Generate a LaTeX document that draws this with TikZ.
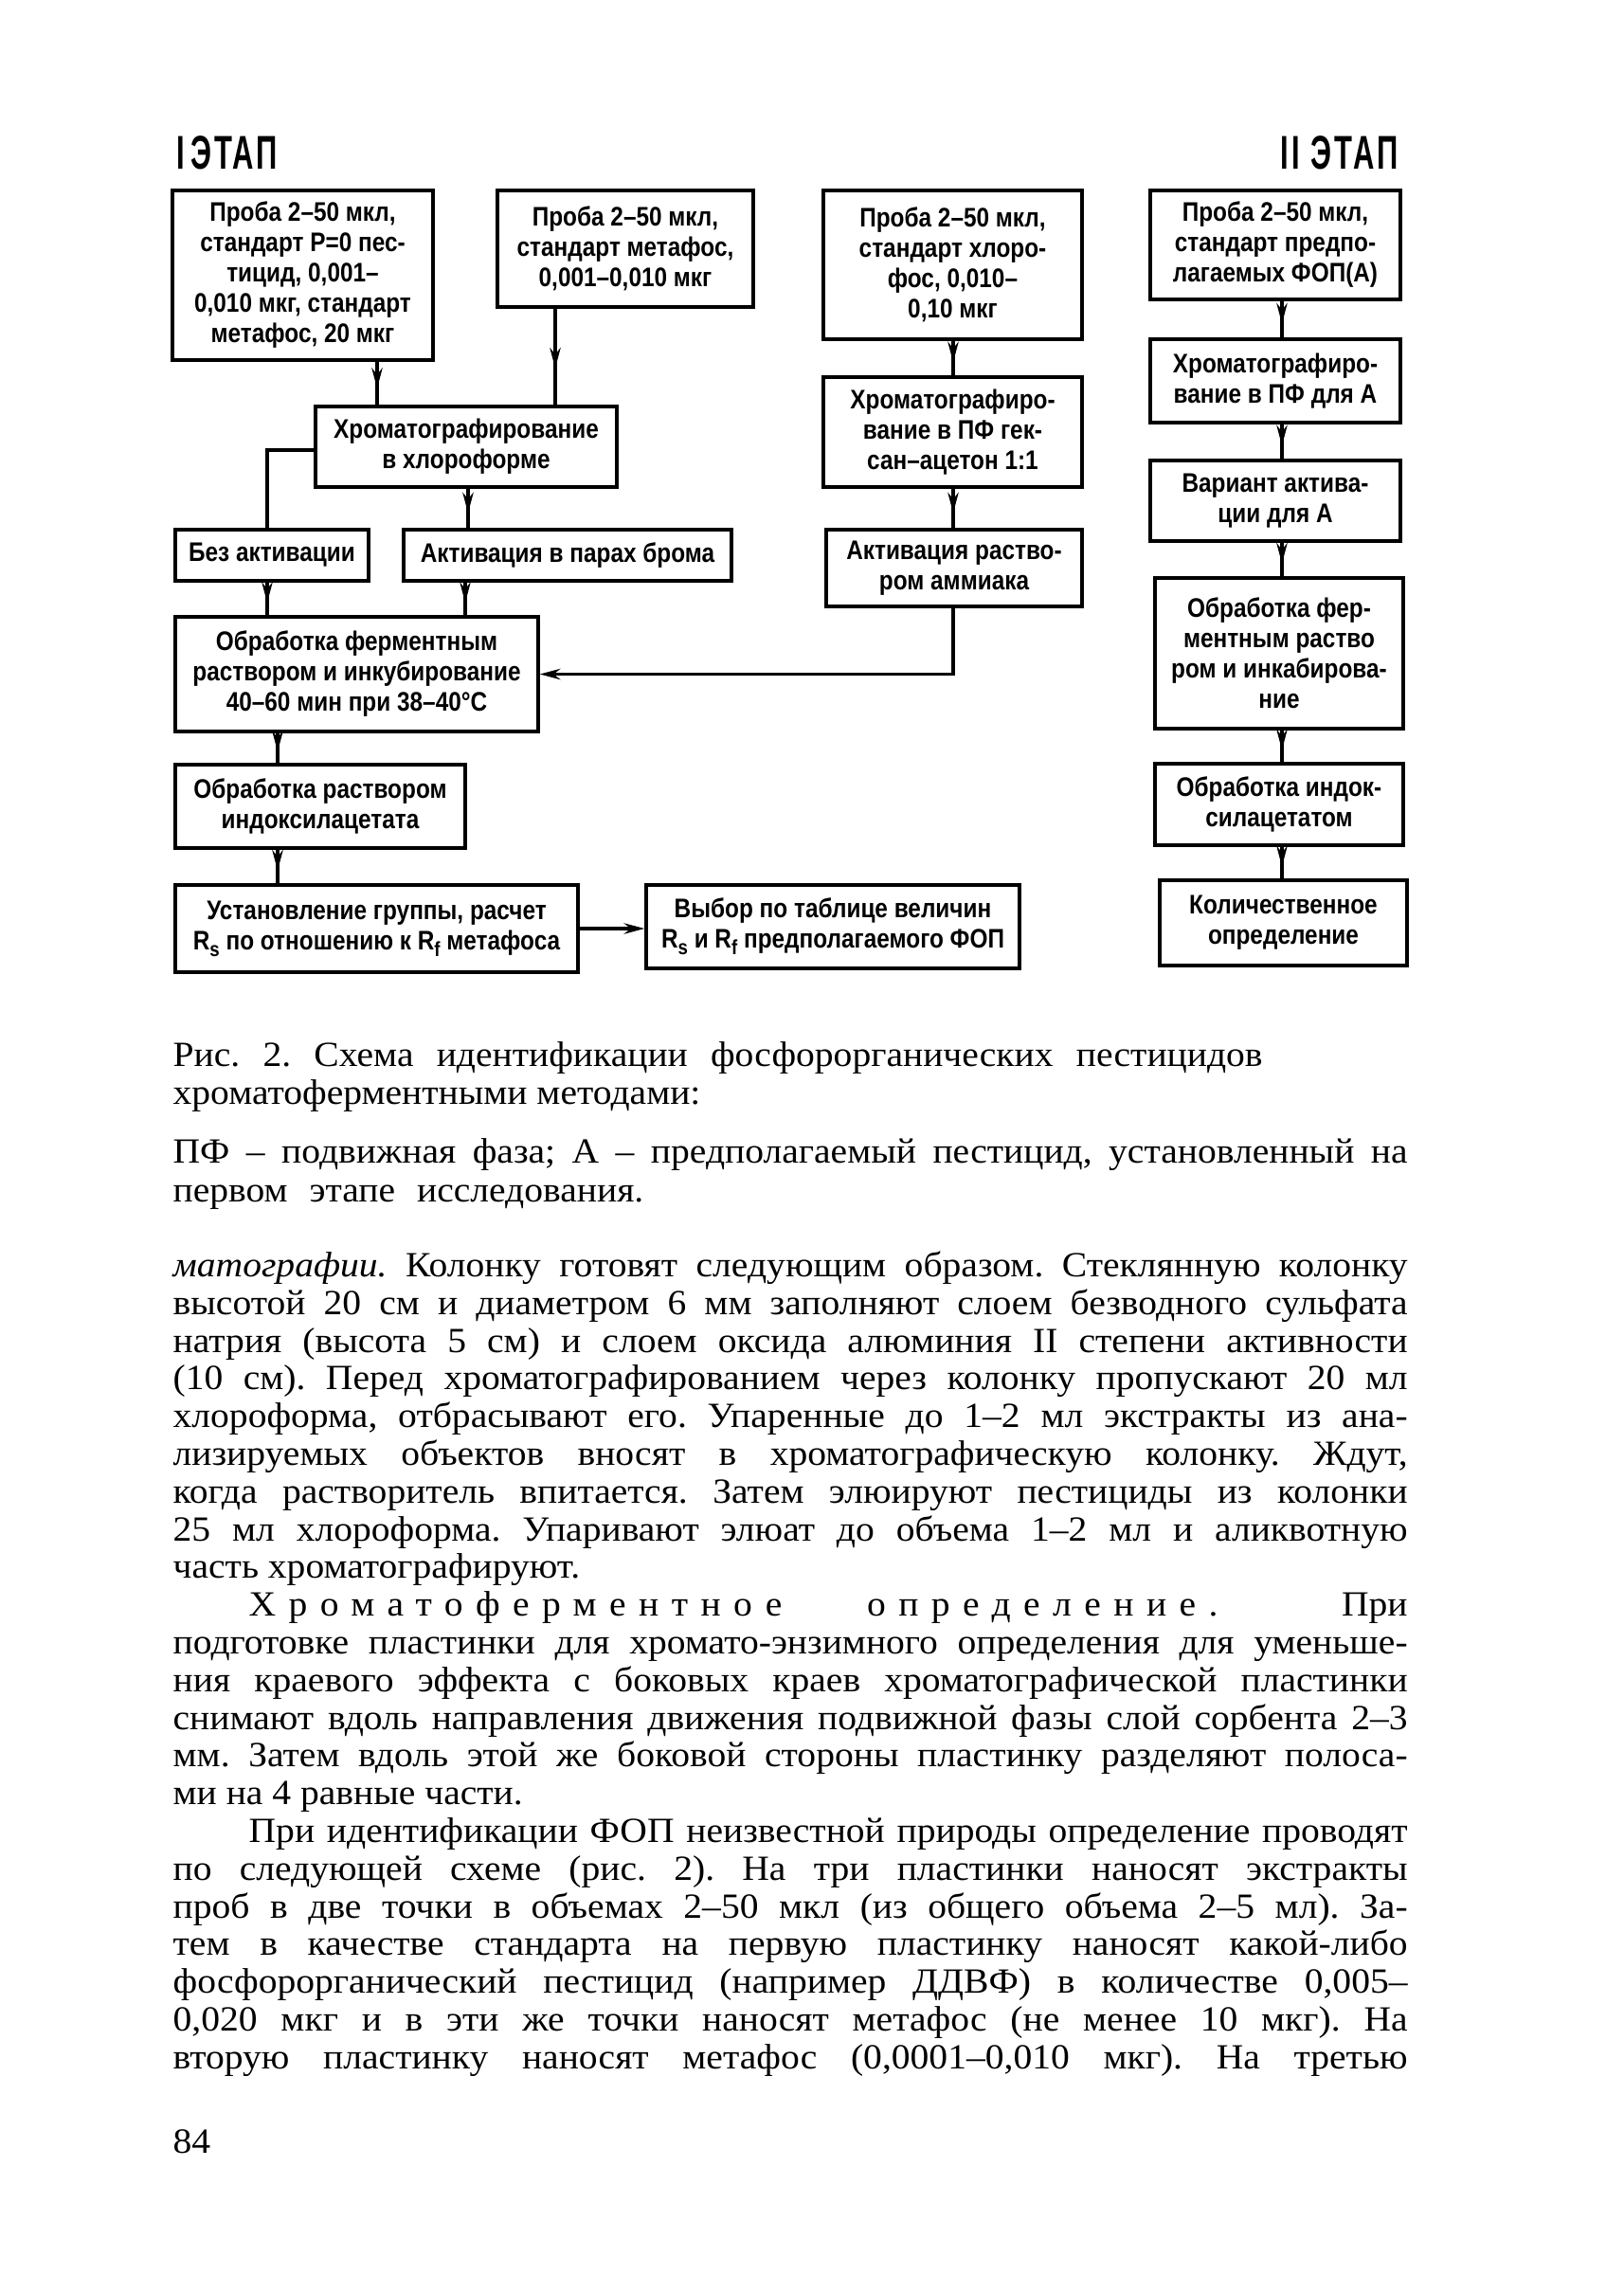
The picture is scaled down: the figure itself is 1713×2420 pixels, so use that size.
\documentclass[tikz,border=0pt]{standalone}
\usepackage{fontspec}
\setmainfont{Liberation Serif}[FakeStretch=1.06]
\newfontfamily\df{Liberation Sans}[FakeStretch=0.86]
\usetikzlibrary{arrows.meta,decorations.markings,calc}
\frenchspacing
\newcommand\sbs[1]{\raisebox{-0.45ex}{\fontsize{6.5}{7}\selectfont #1}}
\newcommand\fitto[2]{\setbox0\hbox{#2}\ifdim\wd0>#1\relax\pgfmathsetmacro\rr{#1/\the\wd0}\scalebox{\rr}[1]{\box0}\else\hbox to #1{#2}\fi}
\newcommand\jl[1]{\fitto{390.9pt}{#1}}
\newcommand\ji[1]{\fitto{366.9pt}{#1}}
\newcommand\bx[6]{\node[bx, minimum width={(#4-#2)*0.3pt}, minimum height={(#5-#3)*0.3pt}] (#1) at ({(#2+#4)/2},{(#3+#5)/2}) {#6};}
\tikzset{
 bx/.style={draw, line width=1pt, inner sep=1pt, align=center, font=\df\bfseries\fontsize{8.5}{9.6}\selectfont},
 conn/.style={line width=1pt},
 midarr/.style={postaction={decorate}, decoration={markings, mark=at position #1 with {\arrow{Stealth[length=6.5pt,width=3.4pt]}}}},
 midarr/.default=0.62,
 endarr/.style={-{Stealth[length=6.5pt,width=3.4pt]}},
 txt/.style={anchor=base west, inner sep=0, font=\fontsize{11.2}{12}\selectfont},
 hdr/.style={inner sep=0, font=\df\bfseries\fontsize{15}{15}\selectfont\addfontfeature{LetterSpace=8}},
}
\begin{document}
\begin{tikzpicture}[x=0.3pt,y=-0.3pt]
\useasboundingbox (0,0) rectangle (1713,2420);
% headers
\node[hdr, anchor=base west] (h1) at (186,178) {\scalebox{0.72}[1]{I\,ЭТАП}};
\node[hdr, anchor=base east] (h2) at (1476,178) {\scalebox{0.72}[1]{II ЭТАП}};
% boxes stage I
\bx{b1}{182}{201}{457}{380}{Проба 2–50 мкл,\\стандарт P=0 пес-\\тицид, 0,001–\\0,010 мкг, стандарт\\метафос, 20 мкг}
\bx{b2}{525}{201}{795}{324}{Проба 2–50 мкл,\\стандарт метафос,\\0,001–0,010 мкг}
\bx{b3}{869}{201}{1142}{358}{Проба 2–50 мкл,\\стандарт хлоро-\\фос, 0,010–\\0,10 мкг}
\bx{chl}{333}{429}{651}{514}{Хроматографирование\\в хлороформе}
\bx{pf}{869}{398}{1142}{514}{Хроматографиро-\\вание в ПФ гек-\\сан–ацетон 1:1}
\bx{bez}{185}{559}{389}{613}{Без активации}
\bx{brom}{426}{559}{772}{613}{Активация в парах брома}
\bx{amm}{872}{559}{1142}{640}{Активация раство-\\ром аммиака}
\bx{obr}{185}{651}{568}{772}{Обработка ферментным\\раствором и инкубирование\\40–60 мин при 38–40°C}
\bx{ind}{185}{807}{491}{895}{Обработка раствором\\индоксилацетата}
\bx{ust}{185}{934}{610}{1026}{Установление группы, расчет\\R\sbs{s} по отношению к R\sbs{f} метафоса}
\bx{vyb}{682}{934}{1076}{1022}{Выбор по таблице величин\\R\sbs{s} и R\sbs{f} предполагаемого ФОП}
% stage II
\bx{c1}{1214}{201}{1478}{316}{Проба 2–50 мкл,\\стандарт предпо-\\лагаемых ФОП(А)}
\bx{c2}{1214}{358}{1478}{446}{Хроматографиро-\\вание в ПФ для А}
\bx{c3}{1214}{486}{1478}{571}{Вариант актива-\\ции для А}
\bx{c4}{1219}{610}{1481}{769}{Обработка фер-\\ментным раство\\ром и инкабирова-\\ние}
\bx{c5}{1219}{806}{1481}{892}{Обработка индок-\\силацетатом}
\bx{c6}{1224}{929}{1485}{1019}{Количественное\\определение}
% guide coordinates
\coordinate (x1) at (398,0);
\coordinate (x2) at (586,0);
\coordinate (k1) at (282,475);
\coordinate (x4) at (494,0);
\coordinate (x5) at (491,0);
\coordinate (x6) at (293,0);
\coordinate (x7) at (1006,0);
\coordinate (x8) at (1353,0);
% connectors stage I
\draw[conn,midarr] (x1 |- b1.south) -- (x1 |- chl.north);
\draw[conn,midarr] (x2 |- b2.south) -- (x2 |- chl.north);
\draw[conn] (chl.west |- k1) -| (k1 |- bez.north);
\draw[conn,midarr] (x4 |- chl.south) -- (x4 |- brom.north);
\draw[conn,midarr] (k1 |- bez.south) -- (k1 |- obr.north);
\draw[conn,midarr] (x5 |- brom.south) -- (x5 |- obr.north);
\draw[conn,midarr] (x6 |- obr.south) -- (x6 |- ind.north);
\draw[conn,midarr] (x6 |- ind.south) -- (x6 |- ust.north);
\draw[conn,endarr] (ust.east) -- (ust.east -| vyb.west);
\draw[conn,midarr] (x7 |- b3.south) -- (x7 |- pf.north);
\draw[conn,midarr] (x7 |- pf.south) -- (x7 |- amm.north);
\draw[conn,endarr] (x7 |- amm.south) |- (obr.east);
% connectors stage II
\draw[conn,midarr] (x8 |- c1.south) -- (x8 |- c2.north);
\draw[conn,midarr] (x8 |- c2.south) -- (x8 |- c3.north);
\draw[conn,midarr] (x8 |- c3.south) -- (x8 |- c4.north);
\draw[conn,midarr] (x8 |- c4.south) -- (x8 |- c5.north);
\draw[conn,midarr] (x8 |- c5.south) -- (x8 |- c6.north);
% caption
\node[txt] (cap1) at (182,1125) {\fitto{345pt}{Рис. 2. Схема идентификации фосфорорганических пестицидов}};
\node[txt] (cap2) at (182,1165) {хроматоферментными методами:};
\node[txt] (cap3) at (182,1227) {\jl{ПФ – подвижная фаза; А – предполагаемый пестицид, установленный на}};
\node[txt] (cap4) at (182,1268) {\fitto{149pt}{первом этапе исследования.}};
% body text
\node[txt] (t01) at (182,1347) {\jl{\textit{матографии.} Колонку готовят следующим образом. Стеклянную колонку}};
\node[txt] (t02) at (182,1387) {\jl{высотой 20 см и диаметром 6 мм заполняют слоем безводного сульфата}};
\node[txt] (t03) at (182,1427) {\jl{натрия (высота 5 см) и слоем оксида алюминия II степени активности}};
\node[txt] (t04) at (182,1466) {\jl{(10 см). Перед хроматографированием через колонку пропускают 20 мл}};
\node[txt] (t05) at (182,1506) {\jl{хлороформа, отбрасывают его. Упаренные до 1–2 мл экстракты из ана-}};
\node[txt] (t06) at (182,1546) {\jl{лизируемых объектов вносят в хроматографическую колонку. Ждут,}};
\node[txt] (t07) at (182,1586) {\jl{когда растворитель впитается. Затем элюируют пестициды из колонки}};
\node[txt] (t08) at (182,1626) {\jl{25 мл хлороформа. Упаривают элюат до объема 1–2 мл и аликвотную}};
\node[txt] (t09) at (182,1665) {часть хроматографируют.};
\node[txt] (t10) at (262,1705) {\ji{{\addfontfeature{LetterSpace=36}Хроматоферментное}\hskip 2.4em{\addfontfeature{LetterSpace=36}определение.}\hfill При}};
\node[txt] (t11) at (182,1745) {\jl{подготовке пластинки для хромато-энзимного определения для уменьше-}};
\node[txt] (t12) at (182,1785) {\jl{ния краевого эффекта с боковых краев хроматографической пластинки}};
\node[txt] (t13) at (182,1825) {\jl{снимают вдоль направления движения подвижной фазы слой сорбента 2–3}};
\node[txt] (t14) at (182,1864) {\jl{мм. Затем вдоль этой же боковой стороны пластинку разделяют полоса-}};
\node[txt] (t15) at (182,1904) {ми на 4 равные части.};
\node[txt] (t16) at (262,1944) {\ji{При идентификации ФОП неизвестной природы определение проводят}};
\node[txt] (t17) at (182,1984) {\jl{по следующей схеме (рис. 2). На три пластинки наносят экстракты}};
\node[txt] (t18) at (182,2024) {\jl{проб в две точки в объемах 2–50 мкл (из общего объема 2–5 мл). За-}};
\node[txt] (t19) at (182,2063) {\jl{тем в качестве стандарта на первую пластинку наносят какой-либо}};
\node[txt] (t20) at (182,2103) {\jl{фосфорорганический пестицид (например ДДВФ) в количестве 0,005–}};
\node[txt] (t21) at (182,2143) {\jl{0,020 мкг и в эти же точки наносят метафос (не менее 10 мкг). На}};
\node[txt] (t22) at (182,2183) {\jl{вторую пластинку наносят метафос (0,0001–0,010 мкг). На третью}};
\node[txt] (pg) at (182,2272) {84};
\end{tikzpicture}
\end{document}
